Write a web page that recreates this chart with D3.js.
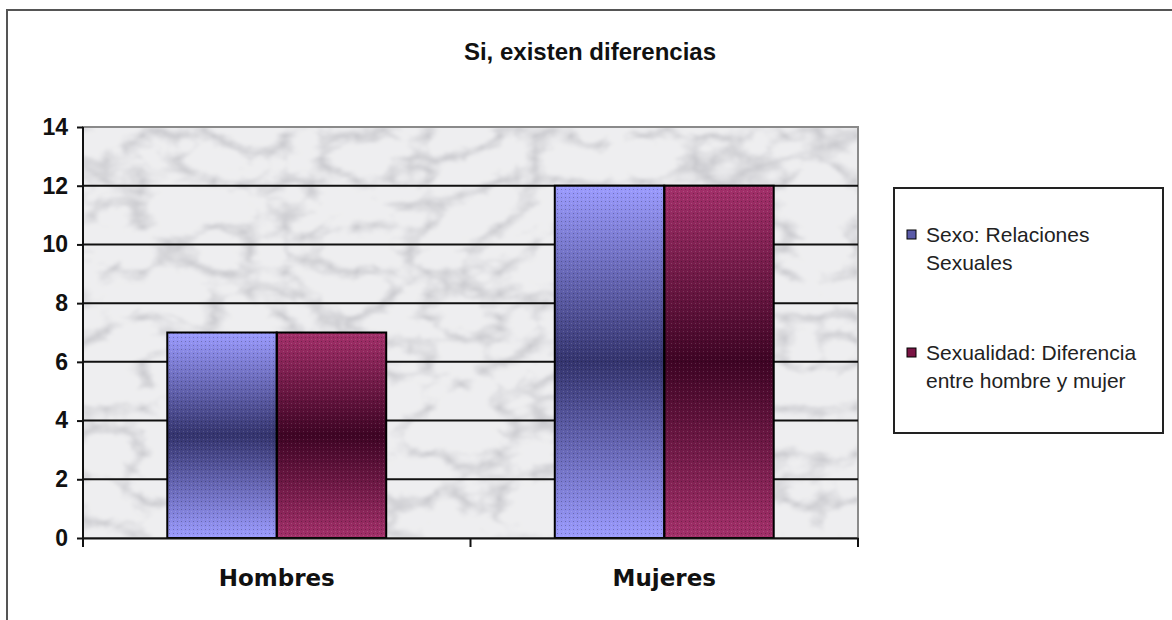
<!DOCTYPE html>
<html lang="es">
<head>
  <meta charset="UTF-8">
  <title>Si, existen diferencias</title>
  <style>
    body {
      margin: 0;
      background: #fff;
      font-family: "Liberation Sans", Arial, sans-serif;
    }
    svg { display: block; }
  </style>
</head>
<body>
  <script src="https://d3js.org/d3.v7.min.js"></script>
  <script>
    const categories = ['Hombres', 'Mujeres'];
    const seriesNames = ['Sexo: Relaciones Sexuales', 'Sexualidad: Diferencia entre hombre y mujer'];
    const legendLines = [['Sexo: Relaciones', 'Sexuales'], ['Sexualidad: Diferencia', 'entre hombre y mujer']];
    const sexoValues = [7, 12];
    const sexualidadValues = [7, 12];
    const yTicks = [0, 2, 4, 6, 8, 10, 12, 14];

    const width = 1172, height = 620;
    const plot = { left: 83, right: 858, top: 127, bottom: 538 };

    const svg = d3.select('body').append('svg')
      .attr('width', width)
      .attr('height', height);

    const defs = svg.append('defs');

    // marble texture: light base with soft grey veins
    const marble = defs.append('filter').attr('id', 'marble')
      .attr('x', 0).attr('y', 0).attr('width', 1).attr('height', 1);
    marble.append('feTurbulence')
      .attr('type', 'turbulence')
      .attr('baseFrequency', '0.014 0.022')
      .attr('numOctaves', 4)
      .attr('seed', 11)
      .attr('result', 'noise');
    marble.append('feColorMatrix')
      .attr('in', 'noise')
      .attr('type', 'matrix')
      .attr('values', '0 0 0 0 0  0 0 0 0 0  0 0 0 0 0  -1.8 0 0 0 0.6')
      .attr('result', 'veinsSharp');
    marble.append('feGaussianBlur').attr('in', 'veinsSharp').attr('stdDeviation', 1.6).attr('result', 'veins');
    marble.append('feFlood').attr('flood-color', '#eeeef0').attr('result', 'base');
    marble.append('feFlood').attr('flood-color', '#a4a4ac').attr('result', 'dark');
    marble.append('feComposite').attr('in', 'dark').attr('in2', 'veins').attr('operator', 'in').attr('result', 'darkVeins');
    marble.append('feMerge').call(m => {
      m.append('feMergeNode').attr('in', 'base');
      m.append('feMergeNode').attr('in', 'darkVeins');
    });

    // bar gradients (light at ends, dark in the middle)
    const fills = [
      { id: 'gBlue', light: '#9c9cff', dark: '#34346e', swatch: '#5a5aa8' },
      { id: 'gMaroon', light: '#a3306a', dark: '#3e0424', swatch: '#7a1444' }
    ];
    fills.forEach(f => {
      const g = defs.append('linearGradient').attr('id', f.id)
        .attr('x1', 0).attr('y1', 0).attr('x2', 0).attr('y2', 1);
      g.append('stop').attr('offset', '0%').attr('stop-color', f.light);
      g.append('stop').attr('offset', '50%').attr('stop-color', f.dark);
      g.append('stop').attr('offset', '100%').attr('stop-color', f.light);
    });
    const dots = defs.append('pattern').attr('id', 'dots')
      .attr('width', 4).attr('height', 4).attr('patternUnits', 'userSpaceOnUse');
    dots.append('rect').attr('x', 1).attr('y', 1).attr('width', 1).attr('height', 1)
      .attr('fill', '#000').attr('opacity', 0.25);
    dots.append('rect').attr('x', 3).attr('y', 3).attr('width', 1).attr('height', 1)
      .attr('fill', '#fff').attr('opacity', 0.15);

    // outer frame
    svg.append('rect')
      .attr('x', 7).attr('y', 10)
      .attr('width', width + 20).attr('height', height + 20)
      .attr('fill', 'none')
      .attr('stroke', '#555')
      .attr('stroke-width', 2);

    svg.append('text')
      .attr('x', 590).attr('y', 60)
      .attr('text-anchor', 'middle')
      .attr('font-weight', 'bold')
      .attr('font-size', 24)
      .attr('fill', '#111')
      .text('Si, existen diferencias');

    const x0 = d3.scaleBand().domain(categories).range([plot.left, plot.right]).paddingInner(0).paddingOuter(0);
    const groupWidth = x0.bandwidth() * 0.565;
    const x1 = d3.scaleBand().domain([0, 1]).range([0, groupWidth]);
    const y = d3.scaleLinear().domain([0, 14]).range([plot.bottom, plot.top]);

    // plot area background
    svg.append('rect')
      .attr('x', plot.left).attr('y', plot.top)
      .attr('width', plot.right - plot.left).attr('height', plot.bottom - plot.top)
      .attr('filter', 'url(#marble)');
    svg.append('rect')
      .attr('x', plot.left).attr('y', plot.top)
      .attr('width', plot.right - plot.left).attr('height', plot.bottom - plot.top)
      .attr('fill', 'none')
      .attr('stroke', '#8a8a8a')
      .attr('stroke-width', 2);

    // gridlines
    svg.append('g')
      .selectAll('line')
      .data(yTicks.filter(t => t > 0 && t < 14))
      .join('line')
      .attr('x1', plot.left).attr('x2', plot.right)
      .attr('y1', d => y(d)).attr('y2', d => y(d))
      .attr('stroke', '#111')
      .attr('stroke-width', 2);

    // bars
    const series = [sexoValues, sexualidadValues];
    const bars = [];
    categories.forEach((c, i) => {
      series.forEach((vals, s) => bars.push({ cat: c, s, v: vals[i] }));
    });
    const barX = d => x0(d.cat) + (x0.bandwidth() - groupWidth) / 2 + x1(d.s);
    const barG = svg.append('g');
    barG.selectAll('rect.bar')
      .data(bars)
      .join('rect')
      .attr('class', 'bar')
      .attr('x', barX)
      .attr('y', d => y(d.v))
      .attr('width', x1.bandwidth())
      .attr('height', d => y(0) - y(d.v))
      .attr('fill', d => `url(#${fills[d.s].id})`);
    barG.selectAll('rect.dot')
      .data(bars)
      .join('rect')
      .attr('class', 'dot')
      .attr('x', barX)
      .attr('y', d => y(d.v))
      .attr('width', x1.bandwidth())
      .attr('height', d => y(0) - y(d.v))
      .attr('fill', 'url(#dots)')
      .attr('stroke', '#000')
      .attr('stroke-width', 2);

    // y axis
    const yAxis = svg.append('g')
      .attr('transform', `translate(${plot.left},0)`)
      .call(d3.axisLeft(y).tickValues(yTicks).tickSize(6).tickPadding(9));
    yAxis.select('.domain').attr('stroke', '#111').attr('stroke-width', 2).attr('d', `M0,${plot.top}V${plot.bottom + 9}`);
    yAxis.selectAll('.tick line').attr('stroke', '#111').attr('stroke-width', 2);
    yAxis.selectAll('.tick text')
      .attr('font-size', 23)
      .attr('font-weight', 'bold')
      .attr('font-family', '"Liberation Sans", Arial, sans-serif')
      .attr('fill', '#111');

    // x axis
    const xAxis = svg.append('g')
      .attr('transform', `translate(0,${plot.bottom})`)
      .call(d3.axisBottom(x0).tickSize(0).tickPadding(32));
    xAxis.select('.domain').attr('stroke', '#111').attr('stroke-width', 2);
    xAxis.selectAll('.tick text')
      .attr('font-size', 23)
      .attr('font-weight', 'bold')
      .attr('font-family', '"DejaVu Sans", Verdana, sans-serif')
      .attr('fill', '#111');
    xAxis.selectAll('line.sep')
      .data([plot.left, x0(categories[1]), plot.right])
      .join('line')
      .attr('class', 'sep')
      .attr('x1', d => d).attr('x2', d => d)
      .attr('y1', 0).attr('y2', 9)
      .attr('stroke', '#111')
      .attr('stroke-width', 2);

    // legend
    const lg = svg.append('g');
    lg.append('rect')
      .attr('x', 894).attr('y', 188)
      .attr('width', 269).attr('height', 245)
      .attr('fill', '#fff')
      .attr('stroke', '#222')
      .attr('stroke-width', 2);
    const items = lg.selectAll('g.item')
      .data(seriesNames)
      .join('g')
      .attr('class', 'item')
      .attr('transform', (d, i) => `translate(907,${[235, 353][i]})`);
    items.append('rect')
      .attr('x', 0).attr('y', -5)
      .attr('width', 9).attr('height', 9)
      .attr('fill', (d, i) => fills[i].swatch)
      .attr('stroke', '#000')
      .attr('stroke-width', 1);
    items.append('text')
      .attr('y', 7)
      .attr('font-size', 21)
      .attr('fill', '#222')
      .selectAll('tspan')
      .data((d, i) => legendLines[i])
      .join('tspan')
      .attr('x', 19)
      .attr('dy', (d, j) => j === 0 ? 0 : 28)
      .text(d => d);
  </script>
</body>
</html>
